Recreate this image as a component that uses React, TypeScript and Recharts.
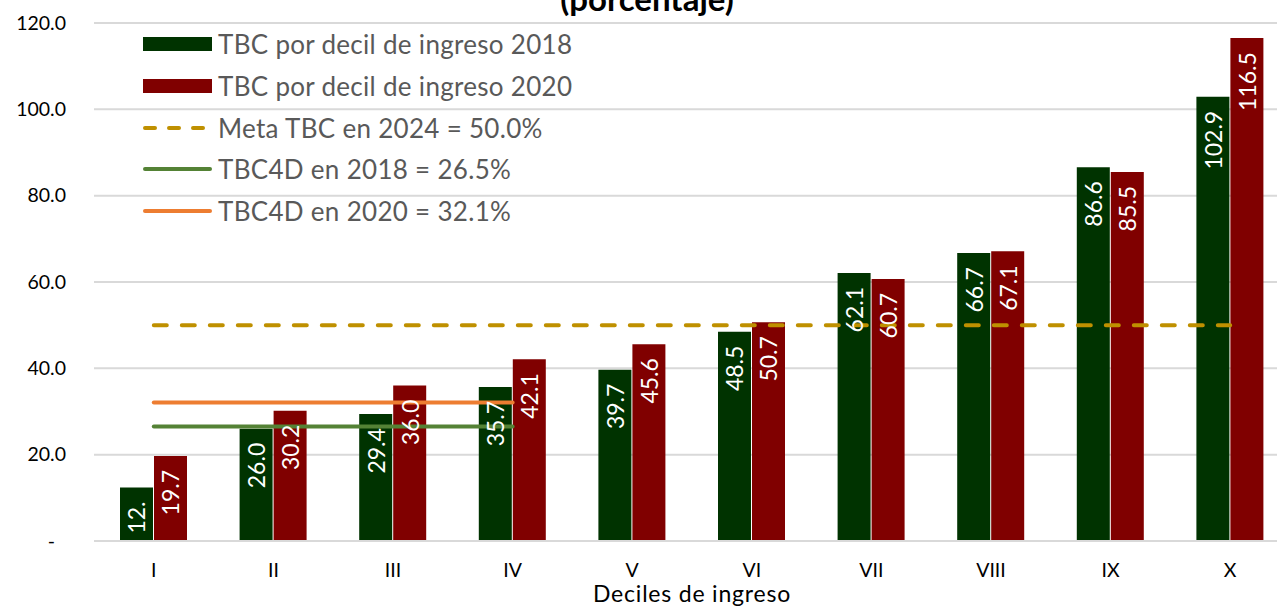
import React from 'react';
import { ComposedChart, Bar, Line, XAxis, YAxis, CartesianGrid, LabelList } from 'recharts';

const categories = ['I', 'II', 'III', 'IV', 'V', 'VI', 'VII', 'VIII', 'IX', 'X'];
const tbc2018 = [12.4, 26.0, 29.4, 35.7, 39.7, 48.5, 62.1, 66.7, 86.6, 102.9];
const tbc2020 = [19.7, 30.2, 36.0, 42.1, 45.6, 50.7, 60.7, 67.1, 85.5, 116.5];
const labels2018 = ['12.', '26.0', '29.4', '35.7', '39.7', '48.5', '62.1', '66.7', '86.6', '102.9'];
const labels2020 = ['19.7', '30.2', '36.0', '42.1', '45.6', '50.7', '60.7', '67.1', '85.5', '116.5'];
const metaTBC2024 = 50.0;
const tbc4d2018 = 26.5;
const tbc4d2020 = 32.1;
const tbc4dDeciles = 4;
const yTicks = [0, 20, 40, 60, 80, 100, 120];

const legendItems = [
  { label: 'TBC por decil de ingreso 2018', type: 'bar', color: '#003300' },
  { label: 'TBC por decil de ingreso 2020', type: 'bar', color: '#800000' },
  { label: 'Meta TBC en 2024 = 50.0%', type: 'dash', color: '#BF9000' },
  { label: 'TBC4D en 2018 = 26.5%', type: 'line', color: '#548235' },
  { label: 'TBC4D en 2020 = 32.1%', type: 'line', color: '#ED7D31' },
];

const data = categories.map((c, i) => ({
  cat: c,
  v2018: tbc2018[i],
  v2020: tbc2020[i],
  meta: metaTBC2024,
  d2018: i < tbc4dDeciles ? tbc4d2018 : null,
  d2020: i < tbc4dDeciles ? tbc4d2020 : null,
}));

const FONT = 'Lato, "Open Sans", sans-serif';
const PLOT_BOTTOM = 541;

const makeLabel = (labels: string[]) => (props: any) => {
  const { x, y, width, index } = props;
  const cx = Number(x) + Number(width) / 2;
  const ty = Number(y) + 14;
  return (
    <text
      x={cx}
      y={ty}
      transform={`rotate(-90 ${cx} ${ty})`}
      textAnchor="end"
      dominantBaseline="central"
      fill="#ffffff"
      fontSize={23}
      fontFamily={FONT}
    >
      {labels[index]}
    </text>
  );
};

const YTick = (props: any) => {
  const { y, payload } = props;
  const v = payload.value;
  return (
    <text x={v === 0 ? 55 : 66} y={y} dy="0.35em" textAnchor="end" fill="#000" fontSize={19.5} fontFamily={FONT}>
      {v === 0 ? '-' : Number(v).toFixed(1)}
    </text>
  );
};

const XTick = (props: any) => {
  const { x, payload } = props;
  return (
    <text x={x} y={PLOT_BOTTOM + 36} textAnchor="middle" fill="#000" fontSize={19.5} fontFamily={FONT}>
      {payload.value}
    </text>
  );
};

export default function App() {
  return (
    <div style={{ position: 'absolute', left: 0, top: 0, width: 1277, height: 606, overflow: 'hidden', background: '#fff' }}>
      <ComposedChart
        width={1300}
        height={606}
        data={data}
        margin={{ top: 23, right: 10, bottom: 0, left: 14 }}
        barGap={1}
        barSize={33}
      >
        <CartesianGrid vertical={false} stroke="#D9D9D9" strokeWidth={2} />
        <XAxis
          dataKey="cat"
          height={65}
          axisLine={{ stroke: '#D9D9D9', strokeWidth: 2 }}
          tickLine={false}
          tick={<XTick />}
          interval={0}
        />
        <YAxis
          width={80}
          domain={[0, 120]}
          ticks={yTicks}
          axisLine={false}
          tickLine={false}
          tick={<YTick />}
          interval={0}
        />
        <Bar dataKey="v2018" fill="#003300" isAnimationActive={false}>
          <LabelList dataKey="v2018" content={makeLabel(labels2018)} />
        </Bar>
        <Bar dataKey="v2020" fill="#800000" isAnimationActive={false}>
          <LabelList dataKey="v2020" content={makeLabel(labels2020)} />
        </Bar>
        <Line
          dataKey="meta"
          stroke="#BF9000"
          strokeWidth={4}
          strokeDasharray="13 15"
          strokeLinecap="round"
          dot={false}
          activeDot={false}
          isAnimationActive={false}
        />
        <Line
          dataKey="d2018"
          stroke="#548235"
          strokeWidth={4}
          strokeLinecap="round"
          dot={false}
          activeDot={false}
          connectNulls={false}
          isAnimationActive={false}
        />
        <Line
          dataKey="d2020"
          stroke="#ED7D31"
          strokeWidth={4}
          strokeLinecap="round"
          dot={false}
          activeDot={false}
          connectNulls={false}
          isAnimationActive={false}
        />
      </ComposedChart>
      <div
        style={{
          position: 'absolute',
          left: 0,
          width: 1294,
          top: -22,
          textAlign: 'center',
          fontFamily: FONT,
          fontWeight: 700,
          fontSize: 33,
          color: '#000',
          lineHeight: '40px',
        }}
      >
        (porcentaje)
      </div>
      <div
        style={{
          position: 'absolute',
          left: 94,
          width: 1196,
          top: 580,
          textAlign: 'center',
          fontFamily: FONT,
          fontSize: 23,
          letterSpacing: 0.8,
          color: '#000',
          lineHeight: '26px',
        }}
      >
        Deciles de ingreso
      </div>
      {legendItems.map((it, i) => (
        <div
          key={it.label}
          style={{
            position: 'absolute',
            left: 143,
            top: 44 + i * 41.8 - 15,
            height: 30,
            display: 'flex',
            alignItems: 'center',
            fontFamily: FONT,
            fontSize: 26,
            letterSpacing: 0.3,
            color: '#595959',
            whiteSpace: 'nowrap',
          }}
        >
          <svg width={69} height={30} style={{ marginRight: 6 }}>
            {it.type === 'bar' && <rect x={0} y={8} width={69} height={14} fill={it.color} />}
            {it.type === 'line' && <line x1={2} y1={15} x2={67} y2={15} stroke={it.color} strokeWidth={4} strokeLinecap="round" />}
            {it.type === 'dash' && (
              <line x1={2} y1={15} x2={67} y2={15} stroke={it.color} strokeWidth={4} strokeLinecap="round" strokeDasharray="10 14" />
            )}
          </svg>
          {it.label}
        </div>
      ))}
    </div>
  );
}
